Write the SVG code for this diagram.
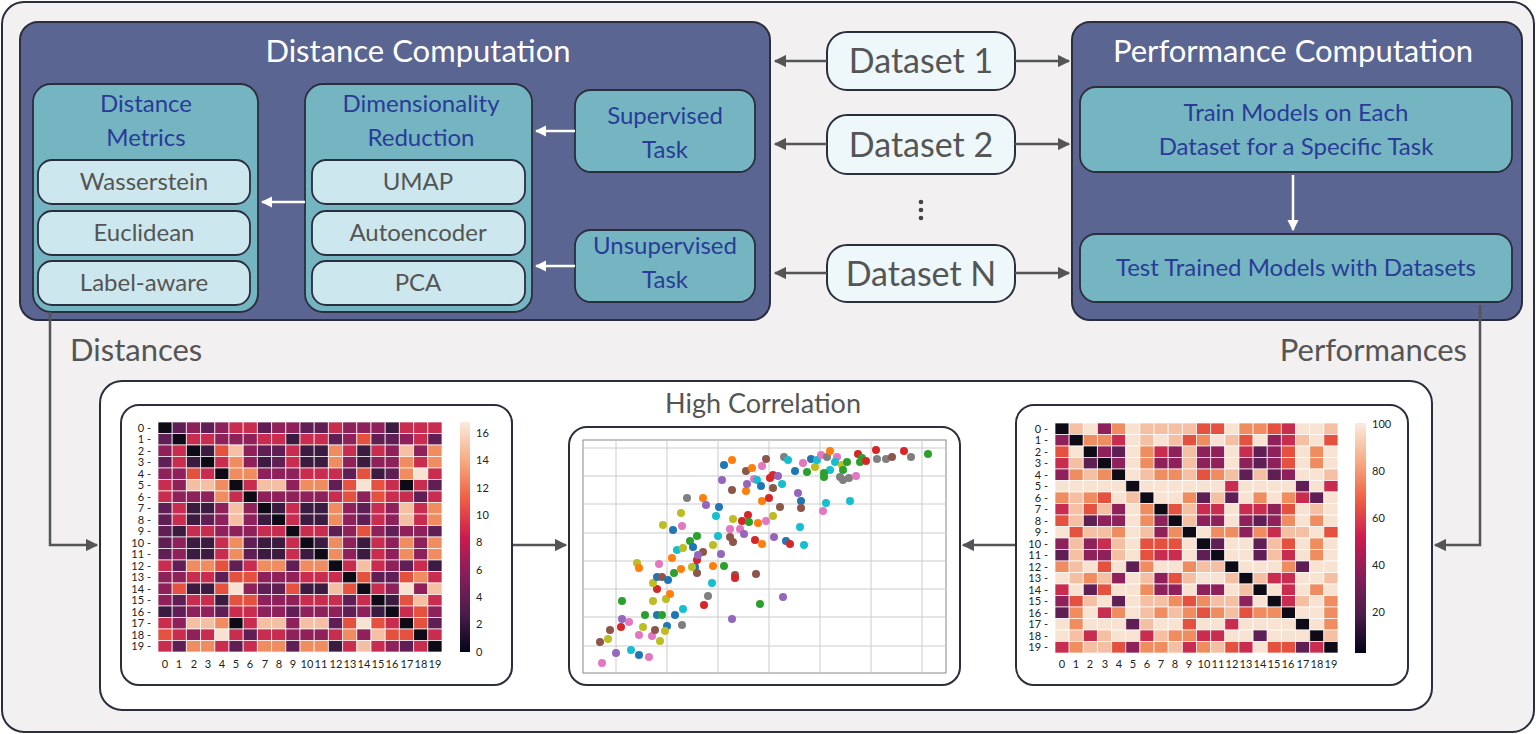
<svg xmlns="http://www.w3.org/2000/svg" width="1536" height="734" viewBox="0 0 1536 734">
<defs>
<style>
text{font-family:Lato,"Open Sans","Liberation Sans",sans-serif}
.big{fill:#5a6591;stroke:#2b2e3d;stroke-width:2}
.mid{fill:#74b5c1;stroke:#2b2e3d;stroke-width:1.8}
.item{fill:#cce8ee;stroke:#2b2e3d;stroke-width:1.8}
.ds{fill:#eef7f9;stroke:#2b2e3d;stroke-width:2}
.panel{fill:#fff;stroke:#2b2e3d;stroke-width:2}
.ttl{fill:#fff;font-size:31px;text-anchor:middle}
.bl{fill:#2a3b98;font-size:24px;text-anchor:middle}
.gr{fill:#555;font-size:24px;text-anchor:middle}
.dst{fill:#555;font-size:34px;text-anchor:middle}
.lbl{fill:#555;font-size:31px}
.con{fill:none;stroke:#555;stroke-width:2.5}
.wcon{fill:none;stroke:#fff;stroke-width:2.5}
.hm rect{width:1px;height:1px;stroke:#fff;stroke-width:0.7;vector-effect:non-scaling-stroke}
.q0{fill:#0e0b16}.q1{fill:#3b1b40}.q2{fill:#5f1e54}.q3{fill:#8e2159}.q4{fill:#c82c4e}.q5{fill:#e4523f}.q6{fill:#ef8c60}.q7{fill:#f4bfa3}.q8{fill:#f8e3d3}
.ax{fill:#222;font-size:11px;font-family:"DejaVu Sans",sans-serif}
.b{fill:#1f77b4}.o{fill:#ff7f0e}.g{fill:#2ca02c}.r{fill:#d62728}.p{fill:#9467bd}.n{fill:#8c564b}.k{fill:#e377c2}.y{fill:#7f7f7f}.l{fill:#bcbd22}.c{fill:#17becf}
.grid{stroke:#ccc;stroke-width:1}
</style>
<marker id="ah" viewBox="0 0 10 10" refX="9" refY="5" markerWidth="5" markerHeight="5" orient="auto-start-reverse"><path d="M0,0 L10,5 L0,10 Z" fill="#555"/></marker>
<marker id="wh" viewBox="0 0 10 10" refX="9" refY="5" markerWidth="4.5" markerHeight="4.5" orient="auto-start-reverse"><path d="M0,0 L10,5 L0,10 Z" fill="#fff"/></marker>
<linearGradient id="cb" x1="0" y1="1" x2="0" y2="0">
<stop offset="0" stop-color="#03051a"/><stop offset="0.17" stop-color="#4c1d4b"/><stop offset="0.33" stop-color="#841e5a"/><stop offset="0.5" stop-color="#cb1b4f"/><stop offset="0.67" stop-color="#f06043"/><stop offset="0.83" stop-color="#f6aa82"/><stop offset="1" stop-color="#faebdd"/>
</linearGradient>
</defs>
<rect x="2" y="2" width="1532" height="730" rx="22" fill="#f2f0f1" stroke="#2b2e3d" stroke-width="2"/>

<g id="distance-computation">
<rect class="big" x="20" y="22" width="750" height="298" rx="18"/>
<text class="ttl" x="418" y="62">Distance Computation</text>
</g>
<g id="distance-metrics">
<rect class="mid" x="33" y="84" width="225" height="228" rx="18"/>
<text class="bl" x="146" y="112">Distance</text>
<text class="bl" x="146" y="146">Metrics</text>
</g>
<g id="wasserstein"><rect class="item" x="38" y="160" width="212" height="44" rx="14"/><text class="gr" x="144" y="190">Wasserstein</text></g>
<g id="euclidean"><rect class="item" x="38" y="211" width="212" height="44" rx="14"/><text class="gr" x="144" y="241">Euclidean</text></g>
<g id="label-aware"><rect class="item" x="38" y="261" width="212" height="44" rx="14"/><text class="gr" x="144" y="291">Label-aware</text></g>
<g id="dimensionality-reduction">
<rect class="mid" x="305" y="84" width="227" height="228" rx="18"/>
<text class="bl" x="421" y="112">Dimensionality</text>
<text class="bl" x="421" y="146">Reduction</text>
</g>
<g id="umap"><rect class="item" x="312" y="160" width="213" height="44" rx="14"/><text class="gr" x="418" y="190">UMAP</text></g>
<g id="autoencoder"><rect class="item" x="312" y="211" width="213" height="44" rx="14"/><text class="gr" x="418" y="241">Autoencoder</text></g>
<g id="pca"><rect class="item" x="312" y="261" width="213" height="44" rx="14"/><text class="gr" x="418" y="291">PCA</text></g>
<g id="supervised-task"><rect class="mid" x="575" y="90" width="180" height="82" rx="16"/><text class="bl" x="665" y="124">Supervised</text><text class="bl" x="665" y="158">Task</text></g>
<g id="unsupervised-task"><rect class="mid" x="575" y="230" width="180" height="72" rx="16"/><text class="bl" x="665" y="254">Unsupervised</text><text class="bl" x="665" y="288">Task</text></g>

<g id="dataset-1"><rect class="ds" x="827" y="32" width="188" height="58" rx="20"/><text class="dst" x="921" y="73">Dataset 1</text></g>
<g id="dataset-2"><rect class="ds" x="827" y="115" width="188" height="59" rx="20"/><text class="dst" x="921" y="157">Dataset 2</text></g>
<g id="dataset-n"><rect class="ds" x="827" y="245" width="188" height="57" rx="20"/><text class="dst" x="921" y="286">Dataset N</text></g>
<g id="ellipsis" fill="#444"><circle cx="921" cy="202" r="2.3"/><circle cx="921" cy="210" r="2.3"/><circle cx="921" cy="218" r="2.3"/></g>

<g id="performance-computation">
<rect class="big" x="1072" y="22" width="450" height="298" rx="18"/>
<text class="ttl" x="1293" y="62">Performance Computation</text>
</g>
<g id="train-models"><rect class="mid" x="1080" y="87" width="432" height="85" rx="16"/><text class="bl" x="1296" y="121">Train Models on Each</text><text class="bl" x="1296" y="155">Dataset for a Specific Task</text></g>
<g id="test-models"><rect class="mid" x="1080" y="234" width="432" height="68" rx="16"/><text class="bl" x="1296" y="276">Test Trained Models with Datasets</text></g>

<text class="lbl" x="70" y="361">Distances</text>
<text class="lbl" x="1467" y="361" text-anchor="end">Performances</text>

<g id="results">
<rect class="panel" x="100" y="381" width="1332" height="329" rx="22"/>
<text x="763" y="413" fill="#555" font-size="27" text-anchor="middle">High Correlation</text>
</g>

<g id="connectors">
<path class="con" d="M827,61 H775" marker-end="url(#ah)"/>
<path class="con" d="M1015,61 H1069" marker-end="url(#ah)"/>
<path class="con" d="M827,144 H775" marker-end="url(#ah)"/>
<path class="con" d="M1015,144 H1069" marker-end="url(#ah)"/>
<path class="con" d="M827,273 H775" marker-end="url(#ah)"/>
<path class="con" d="M1015,273 H1069" marker-end="url(#ah)"/>
<path class="wcon" d="M575,131 H536" marker-end="url(#wh)"/>
<path class="wcon" d="M575,266 H536" marker-end="url(#wh)"/>
<path class="wcon" d="M305,202 H262" marker-end="url(#wh)"/>
<path class="wcon" d="M1293,175 V230" marker-end="url(#wh)"/>
<path class="con" stroke-width="2" d="M50,312 V545 H97" marker-end="url(#ah)"/>
<path class="con" stroke-width="2" d="M1480,305 V545 H1435" marker-end="url(#ah)"/>
<path class="con" d="M512,545 H566" marker-end="url(#ah)"/>
<path class="con" d="M1016,545 H963" marker-end="url(#ah)"/>
</g>

<g id="distance-heatmap">
<rect class="panel" x="121" y="405" width="391" height="280" rx="18"/>
<g class="hm" transform="translate(158,422) scale(14.2,11.5)">
<g><rect x="0" class="q0"/><rect x="1" class="q2"/><rect x="2" class="q3"/><rect x="3" class="q2"/><rect x="4" class="q3"/><rect x="5" class="q4"/><rect x="6" class="q4"/><rect x="7" class="q2"/><rect x="8" class="q3"/><rect x="9" class="q3"/><rect x="10" class="q2"/><rect x="11" class="q2"/><rect x="12" class="q4"/><rect x="13" class="q3"/><rect x="14" class="q3"/><rect x="15" class="q3"/><rect x="16" class="q1"/><rect x="17" class="q4"/><rect x="18" class="q4"/><rect x="19" class="q4"/></g>
<g transform="translate(0,1)"><rect x="0" class="q2"/><rect x="1" class="q0"/><rect x="2" class="q4"/><rect x="3" class="q4"/><rect x="4" class="q3"/><rect x="5" class="q3"/><rect x="6" class="q3"/><rect x="7" class="q4"/><rect x="8" class="q4"/><rect x="9" class="q1"/><rect x="10" class="q4"/><rect x="11" class="q4"/><rect x="12" class="q2"/><rect x="13" class="q3"/><rect x="14" class="q5"/><rect x="15" class="q2"/><rect x="16" class="q2"/><rect x="17" class="q3"/><rect x="18" class="q4"/><rect x="19" class="q2"/></g>
<g transform="translate(0,2)"><rect x="0" class="q3"/><rect x="1" class="q4"/><rect x="2" class="q0"/><rect x="3" class="q1"/><rect x="4" class="q5"/><rect x="5" class="q7"/><rect x="6" class="q3"/><rect x="7" class="q2"/><rect x="8" class="q2"/><rect x="9" class="q4"/><rect x="10" class="q1"/><rect x="11" class="q1"/><rect x="12" class="q6"/><rect x="13" class="q4"/><rect x="14" class="q1"/><rect x="15" class="q4"/><rect x="16" class="q3"/><rect x="17" class="q7"/><rect x="18" class="q3"/><rect x="19" class="q6"/></g>
<g transform="translate(0,3)"><rect x="0" class="q2"/><rect x="1" class="q4"/><rect x="2" class="q1"/><rect x="3" class="q0"/><rect x="4" class="q4"/><rect x="5" class="q6"/><rect x="6" class="q3"/><rect x="7" class="q1"/><rect x="8" class="q2"/><rect x="9" class="q4"/><rect x="10" class="q1"/><rect x="11" class="q1"/><rect x="12" class="q6"/><rect x="13" class="q3"/><rect x="14" class="q1"/><rect x="15" class="q3"/><rect x="16" class="q3"/><rect x="17" class="q6"/><rect x="18" class="q4"/><rect x="19" class="q6"/></g>
<g transform="translate(0,4)"><rect x="0" class="q3"/><rect x="1" class="q3"/><rect x="2" class="q5"/><rect x="3" class="q4"/><rect x="4" class="q0"/><rect x="5" class="q6"/><rect x="6" class="q6"/><rect x="7" class="q3"/><rect x="8" class="q3"/><rect x="9" class="q3"/><rect x="10" class="q4"/><rect x="11" class="q4"/><rect x="12" class="q4"/><rect x="13" class="q2"/><rect x="14" class="q5"/><rect x="15" class="q1"/><rect x="16" class="q2"/><rect x="17" class="q6"/><rect x="18" class="q8"/><rect x="19" class="q4"/></g>
<g transform="translate(0,5)"><rect x="0" class="q4"/><rect x="1" class="q3"/><rect x="2" class="q7"/><rect x="3" class="q7"/><rect x="4" class="q6"/><rect x="5" class="q0"/><rect x="6" class="q4"/><rect x="7" class="q7"/><rect x="8" class="q7"/><rect x="9" class="q3"/><rect x="10" class="q6"/><rect x="11" class="q6"/><rect x="12" class="q2"/><rect x="13" class="q5"/><rect x="14" class="q8"/><rect x="15" class="q5"/><rect x="16" class="q4"/><rect x="17" class="q0"/><rect x="18" class="q4"/><rect x="19" class="q2"/></g>
<g transform="translate(0,6)"><rect x="0" class="q4"/><rect x="1" class="q3"/><rect x="2" class="q3"/><rect x="3" class="q3"/><rect x="4" class="q6"/><rect x="5" class="q4"/><rect x="6" class="q0"/><rect x="7" class="q3"/><rect x="8" class="q3"/><rect x="9" class="q3"/><rect x="10" class="q3"/><rect x="11" class="q3"/><rect x="12" class="q4"/><rect x="13" class="q5"/><rect x="14" class="q3"/><rect x="15" class="q5"/><rect x="16" class="q4"/><rect x="17" class="q4"/><rect x="18" class="q2"/><rect x="19" class="q4"/></g>
<g transform="translate(0,7)"><rect x="0" class="q2"/><rect x="1" class="q4"/><rect x="2" class="q1"/><rect x="3" class="q1"/><rect x="4" class="q3"/><rect x="5" class="q7"/><rect x="6" class="q3"/><rect x="7" class="q0"/><rect x="8" class="q1"/><rect x="9" class="q4"/><rect x="10" class="q1"/><rect x="11" class="q1"/><rect x="12" class="q6"/><rect x="13" class="q3"/><rect x="14" class="q2"/><rect x="15" class="q4"/><rect x="16" class="q3"/><rect x="17" class="q7"/><rect x="18" class="q4"/><rect x="19" class="q6"/></g>
<g transform="translate(0,8)"><rect x="0" class="q2"/><rect x="1" class="q4"/><rect x="2" class="q1"/><rect x="3" class="q2"/><rect x="4" class="q3"/><rect x="5" class="q7"/><rect x="6" class="q3"/><rect x="7" class="q1"/><rect x="8" class="q0"/><rect x="9" class="q4"/><rect x="10" class="q1"/><rect x="11" class="q1"/><rect x="12" class="q6"/><rect x="13" class="q3"/><rect x="14" class="q2"/><rect x="15" class="q4"/><rect x="16" class="q3"/><rect x="17" class="q7"/><rect x="18" class="q4"/><rect x="19" class="q6"/></g>
<g transform="translate(0,9)"><rect x="0" class="q2"/><rect x="1" class="q1"/><rect x="2" class="q4"/><rect x="3" class="q4"/><rect x="4" class="q3"/><rect x="5" class="q3"/><rect x="6" class="q3"/><rect x="7" class="q4"/><rect x="8" class="q4"/><rect x="9" class="q0"/><rect x="10" class="q4"/><rect x="11" class="q4"/><rect x="12" class="q2"/><rect x="13" class="q3"/><rect x="14" class="q5"/><rect x="15" class="q3"/><rect x="16" class="q2"/><rect x="17" class="q3"/><rect x="18" class="q3"/><rect x="19" class="q2"/></g>
<g transform="translate(0,10)"><rect x="0" class="q2"/><rect x="1" class="q3"/><rect x="2" class="q1"/><rect x="3" class="q1"/><rect x="4" class="q4"/><rect x="5" class="q6"/><rect x="6" class="q2"/><rect x="7" class="q1"/><rect x="8" class="q1"/><rect x="9" class="q4"/><rect x="10" class="q0"/><rect x="11" class="q1"/><rect x="12" class="q6"/><rect x="13" class="q3"/><rect x="14" class="q1"/><rect x="15" class="q4"/><rect x="16" class="q3"/><rect x="17" class="q6"/><rect x="18" class="q3"/><rect x="19" class="q6"/></g>
<g transform="translate(0,11)"><rect x="0" class="q2"/><rect x="1" class="q3"/><rect x="2" class="q1"/><rect x="3" class="q1"/><rect x="4" class="q4"/><rect x="5" class="q6"/><rect x="6" class="q2"/><rect x="7" class="q1"/><rect x="8" class="q1"/><rect x="9" class="q4"/><rect x="10" class="q1"/><rect x="11" class="q0"/><rect x="12" class="q6"/><rect x="13" class="q3"/><rect x="14" class="q1"/><rect x="15" class="q4"/><rect x="16" class="q3"/><rect x="17" class="q6"/><rect x="18" class="q3"/><rect x="19" class="q6"/></g>
<g transform="translate(0,12)"><rect x="0" class="q4"/><rect x="1" class="q2"/><rect x="2" class="q6"/><rect x="3" class="q6"/><rect x="4" class="q5"/><rect x="5" class="q2"/><rect x="6" class="q4"/><rect x="7" class="q6"/><rect x="8" class="q6"/><rect x="9" class="q2"/><rect x="10" class="q6"/><rect x="11" class="q6"/><rect x="12" class="q0"/><rect x="13" class="q4"/><rect x="14" class="q7"/><rect x="15" class="q4"/><rect x="16" class="q3"/><rect x="17" class="q2"/><rect x="18" class="q4"/><rect x="19" class="q1"/></g>
<g transform="translate(0,13)"><rect x="0" class="q3"/><rect x="1" class="q3"/><rect x="2" class="q4"/><rect x="3" class="q4"/><rect x="4" class="q2"/><rect x="5" class="q5"/><rect x="6" class="q5"/><rect x="7" class="q3"/><rect x="8" class="q3"/><rect x="9" class="q3"/><rect x="10" class="q4"/><rect x="11" class="q4"/><rect x="12" class="q4"/><rect x="13" class="q0"/><rect x="14" class="q5"/><rect x="15" class="q2"/><rect x="16" class="q2"/><rect x="17" class="q5"/><rect x="18" class="q6"/><rect x="19" class="q4"/></g>
<g transform="translate(0,14)"><rect x="0" class="q3"/><rect x="1" class="q5"/><rect x="2" class="q1"/><rect x="3" class="q1"/><rect x="4" class="q5"/><rect x="5" class="q8"/><rect x="6" class="q3"/><rect x="7" class="q2"/><rect x="8" class="q2"/><rect x="9" class="q5"/><rect x="10" class="q1"/><rect x="11" class="q1"/><rect x="12" class="q7"/><rect x="13" class="q5"/><rect x="14" class="q0"/><rect x="15" class="q4"/><rect x="16" class="q3"/><rect x="17" class="q8"/><rect x="18" class="q3"/><rect x="19" class="q7"/></g>
<g transform="translate(0,15)"><rect x="0" class="q3"/><rect x="1" class="q2"/><rect x="2" class="q4"/><rect x="3" class="q4"/><rect x="4" class="q1"/><rect x="5" class="q5"/><rect x="6" class="q5"/><rect x="7" class="q3"/><rect x="8" class="q3"/><rect x="9" class="q3"/><rect x="10" class="q4"/><rect x="11" class="q4"/><rect x="12" class="q4"/><rect x="13" class="q2"/><rect x="14" class="q4"/><rect x="15" class="q0"/><rect x="16" class="q1"/><rect x="17" class="q5"/><rect x="18" class="q7"/><rect x="19" class="q4"/></g>
<g transform="translate(0,16)"><rect x="0" class="q1"/><rect x="1" class="q2"/><rect x="2" class="q3"/><rect x="3" class="q3"/><rect x="4" class="q2"/><rect x="5" class="q4"/><rect x="6" class="q4"/><rect x="7" class="q3"/><rect x="8" class="q3"/><rect x="9" class="q2"/><rect x="10" class="q3"/><rect x="11" class="q3"/><rect x="12" class="q3"/><rect x="13" class="q2"/><rect x="14" class="q3"/><rect x="15" class="q1"/><rect x="16" class="q0"/><rect x="17" class="q4"/><rect x="18" class="q5"/><rect x="19" class="q3"/></g>
<g transform="translate(0,17)"><rect x="0" class="q4"/><rect x="1" class="q3"/><rect x="2" class="q7"/><rect x="3" class="q7"/><rect x="4" class="q6"/><rect x="5" class="q0"/><rect x="6" class="q4"/><rect x="7" class="q7"/><rect x="8" class="q7"/><rect x="9" class="q3"/><rect x="10" class="q7"/><rect x="11" class="q7"/><rect x="12" class="q2"/><rect x="13" class="q5"/><rect x="14" class="q8"/><rect x="15" class="q5"/><rect x="16" class="q4"/><rect x="17" class="q0"/><rect x="18" class="q5"/><rect x="19" class="q2"/></g>
<g transform="translate(0,18)"><rect x="0" class="q5"/><rect x="1" class="q4"/><rect x="2" class="q3"/><rect x="3" class="q4"/><rect x="4" class="q8"/><rect x="5" class="q4"/><rect x="6" class="q2"/><rect x="7" class="q4"/><rect x="8" class="q4"/><rect x="9" class="q3"/><rect x="10" class="q3"/><rect x="11" class="q3"/><rect x="12" class="q4"/><rect x="13" class="q6"/><rect x="14" class="q3"/><rect x="15" class="q7"/><rect x="16" class="q5"/><rect x="17" class="q5"/><rect x="18" class="q0"/><rect x="19" class="q4"/></g>
<g transform="translate(0,19)"><rect x="0" class="q4"/><rect x="1" class="q2"/><rect x="2" class="q6"/><rect x="3" class="q6"/><rect x="4" class="q4"/><rect x="5" class="q2"/><rect x="6" class="q4"/><rect x="7" class="q6"/><rect x="8" class="q6"/><rect x="9" class="q2"/><rect x="10" class="q6"/><rect x="11" class="q6"/><rect x="12" class="q1"/><rect x="13" class="q4"/><rect x="14" class="q7"/><rect x="15" class="q4"/><rect x="16" class="q3"/><rect x="17" class="q2"/><rect x="18" class="q4"/><rect x="19" class="q0"/></g>
</g>
<g class="ax" text-anchor="end">
<text x="151" y="432">0 -</text><text x="151" y="443">1 -</text><text x="151" y="455">2 -</text><text x="151" y="466">3 -</text><text x="151" y="478">4 -</text><text x="151" y="489">5 -</text><text x="151" y="501">6 -</text><text x="151" y="512">7 -</text><text x="151" y="524">8 -</text><text x="151" y="535">9 -</text><text x="151" y="547">10 -</text><text x="151" y="558">11 -</text><text x="151" y="570">12 -</text><text x="151" y="581">13 -</text><text x="151" y="593">14 -</text><text x="151" y="604">15 -</text><text x="151" y="616">16 -</text><text x="151" y="627">17 -</text><text x="151" y="639">18 -</text><text x="151" y="650">19 -</text>
</g>
<g class="ax" text-anchor="middle">
<text x="165" y="668">0</text><text x="179" y="668">1</text><text x="194" y="668">2</text><text x="208" y="668">3</text><text x="222" y="668">4</text><text x="236" y="668">5</text><text x="250" y="668">6</text><text x="265" y="668">7</text><text x="279" y="668">8</text><text x="293" y="668">9</text><text x="307" y="668">10</text><text x="321" y="668">11</text><text x="336" y="668">12</text><text x="350" y="668">13</text><text x="364" y="668">14</text><text x="378" y="668">15</text><text x="392" y="668">16</text><text x="407" y="668">17</text><text x="421" y="668">18</text><text x="435" y="668">19</text>
</g>
<rect x="460" y="422" width="10" height="230" fill="url(#cb)"/>
<g class="ax">
<text x="476" y="437">16</text><text x="476" y="464">14</text><text x="476" y="492">12</text><text x="476" y="519">10</text><text x="476" y="546">8</text><text x="476" y="574">6</text><text x="476" y="601">4</text><text x="476" y="628">2</text><text x="476" y="656">0</text>
</g>
</g>

<g id="performance-heatmap">
<rect class="panel" x="1016" y="405" width="392" height="280" rx="18"/>
<g class="hm" transform="translate(1055,423) scale(14.15,11.5)">
<g><rect x="0" class="q0"/><rect x="1" class="q7"/><rect x="2" class="q8"/><rect x="3" class="q3"/><rect x="4" class="q6"/><rect x="5" class="q8"/><rect x="6" class="q7"/><rect x="7" class="q7"/><rect x="8" class="q7"/><rect x="9" class="q7"/><rect x="10" class="q5"/><rect x="11" class="q5"/><rect x="12" class="q8"/><rect x="13" class="q6"/><rect x="14" class="q6"/><rect x="15" class="q5"/><rect x="16" class="q4"/><rect x="17" class="q8"/><rect x="18" class="q8"/><rect x="19" class="q7"/></g>
<g transform="translate(0,1)"><rect x="0" class="q3"/><rect x="1" class="q0"/><rect x="2" class="q6"/><rect x="3" class="q6"/><rect x="4" class="q4"/><rect x="5" class="q8"/><rect x="6" class="q7"/><rect x="7" class="q8"/><rect x="8" class="q7"/><rect x="9" class="q5"/><rect x="10" class="q6"/><rect x="11" class="q8"/><rect x="12" class="q7"/><rect x="13" class="q5"/><rect x="14" class="q8"/><rect x="15" class="q3"/><rect x="16" class="q4"/><rect x="17" class="q7"/><rect x="18" class="q8"/><rect x="19" class="q5"/></g>
<g transform="translate(0,2)"><rect x="0" class="q5"/><rect x="1" class="q8"/><rect x="2" class="q0"/><rect x="3" class="q3"/><rect x="4" class="q2"/><rect x="5" class="q8"/><rect x="6" class="q6"/><rect x="7" class="q4"/><rect x="8" class="q3"/><rect x="9" class="q7"/><rect x="10" class="q3"/><rect x="11" class="q3"/><rect x="12" class="q8"/><rect x="13" class="q4"/><rect x="14" class="q2"/><rect x="15" class="q3"/><rect x="16" class="q5"/><rect x="17" class="q8"/><rect x="18" class="q6"/><rect x="19" class="q8"/></g>
<g transform="translate(0,3)"><rect x="0" class="q4"/><rect x="1" class="q7"/><rect x="2" class="q2"/><rect x="3" class="q0"/><rect x="4" class="q3"/><rect x="5" class="q8"/><rect x="6" class="q6"/><rect x="7" class="q3"/><rect x="8" class="q3"/><rect x="9" class="q7"/><rect x="10" class="q3"/><rect x="11" class="q3"/><rect x="12" class="q8"/><rect x="13" class="q3"/><rect x="14" class="q2"/><rect x="15" class="q3"/><rect x="16" class="q5"/><rect x="17" class="q8"/><rect x="18" class="q6"/><rect x="19" class="q8"/></g>
<g transform="translate(0,4)"><rect x="0" class="q3"/><rect x="1" class="q6"/><rect x="2" class="q7"/><rect x="3" class="q6"/><rect x="4" class="q0"/><rect x="5" class="q8"/><rect x="6" class="q7"/><rect x="7" class="q6"/><rect x="8" class="q6"/><rect x="9" class="q7"/><rect x="10" class="q5"/><rect x="11" class="q6"/><rect x="12" class="q7"/><rect x="13" class="q2"/><rect x="14" class="q7"/><rect x="15" class="q2"/><rect x="16" class="q3"/><rect x="17" class="q8"/><rect x="18" class="q8"/><rect x="19" class="q7"/></g>
<g transform="translate(0,5)"><rect x="0" class="q8"/><rect x="1" class="q8"/><rect x="2" class="q8"/><rect x="3" class="q8"/><rect x="4" class="q8"/><rect x="5" class="q0"/><rect x="6" class="q8"/><rect x="7" class="q8"/><rect x="8" class="q8"/><rect x="9" class="q8"/><rect x="10" class="q8"/><rect x="11" class="q8"/><rect x="12" class="q4"/><rect x="13" class="q8"/><rect x="14" class="q8"/><rect x="15" class="q8"/><rect x="16" class="q8"/><rect x="17" class="q2"/><rect x="18" class="q8"/><rect x="19" class="q4"/></g>
<g transform="translate(0,6)"><rect x="0" class="q6"/><rect x="1" class="q7"/><rect x="2" class="q6"/><rect x="3" class="q5"/><rect x="4" class="q8"/><rect x="5" class="q7"/><rect x="6" class="q0"/><rect x="7" class="q8"/><rect x="8" class="q8"/><rect x="9" class="q6"/><rect x="10" class="q2"/><rect x="11" class="q7"/><rect x="12" class="q2"/><rect x="13" class="q8"/><rect x="14" class="q6"/><rect x="15" class="q8"/><rect x="16" class="q6"/><rect x="17" class="q4"/><rect x="18" class="q2"/><rect x="19" class="q8"/></g>
<g transform="translate(0,7)"><rect x="0" class="q4"/><rect x="1" class="q7"/><rect x="2" class="q5"/><rect x="3" class="q7"/><rect x="4" class="q3"/><rect x="5" class="q8"/><rect x="6" class="q6"/><rect x="7" class="q0"/><rect x="8" class="q5"/><rect x="9" class="q7"/><rect x="10" class="q4"/><rect x="11" class="q4"/><rect x="12" class="q8"/><rect x="13" class="q4"/><rect x="14" class="q4"/><rect x="15" class="q3"/><rect x="16" class="q5"/><rect x="17" class="q8"/><rect x="18" class="q7"/><rect x="19" class="q8"/></g>
<g transform="translate(0,8)"><rect x="0" class="q5"/><rect x="1" class="q7"/><rect x="2" class="q2"/><rect x="3" class="q3"/><rect x="4" class="q3"/><rect x="5" class="q8"/><rect x="6" class="q6"/><rect x="7" class="q3"/><rect x="8" class="q0"/><rect x="9" class="q7"/><rect x="10" class="q3"/><rect x="11" class="q3"/><rect x="12" class="q8"/><rect x="13" class="q3"/><rect x="14" class="q2"/><rect x="15" class="q3"/><rect x="16" class="q6"/><rect x="17" class="q8"/><rect x="18" class="q6"/><rect x="19" class="q8"/></g>
<g transform="translate(0,9)"><rect x="0" class="q8"/><rect x="1" class="q5"/><rect x="2" class="q7"/><rect x="3" class="q7"/><rect x="4" class="q6"/><rect x="5" class="q8"/><rect x="6" class="q7"/><rect x="7" class="q3"/><rect x="8" class="q6"/><rect x="9" class="q0"/><rect x="10" class="q8"/><rect x="11" class="q6"/><rect x="12" class="q6"/><rect x="13" class="q3"/><rect x="14" class="q6"/><rect x="15" class="q4"/><rect x="16" class="q7"/><rect x="17" class="q7"/><rect x="18" class="q8"/><rect x="19" class="q5"/></g>
<g transform="translate(0,10)"><rect x="0" class="q3"/><rect x="1" class="q7"/><rect x="2" class="q3"/><rect x="3" class="q4"/><rect x="4" class="q7"/><rect x="5" class="q8"/><rect x="6" class="q5"/><rect x="7" class="q5"/><rect x="8" class="q5"/><rect x="9" class="q8"/><rect x="10" class="q0"/><rect x="11" class="q2"/><rect x="12" class="q8"/><rect x="13" class="q8"/><rect x="14" class="q2"/><rect x="15" class="q7"/><rect x="16" class="q5"/><rect x="17" class="q8"/><rect x="18" class="q6"/><rect x="19" class="q8"/></g>
<g transform="translate(0,11)"><rect x="0" class="q2"/><rect x="1" class="q7"/><rect x="2" class="q3"/><rect x="3" class="q3"/><rect x="4" class="q7"/><rect x="5" class="q8"/><rect x="6" class="q5"/><rect x="7" class="q4"/><rect x="8" class="q4"/><rect x="9" class="q8"/><rect x="10" class="q2"/><rect x="11" class="q0"/><rect x="12" class="q8"/><rect x="13" class="q8"/><rect x="14" class="q2"/><rect x="15" class="q7"/><rect x="16" class="q4"/><rect x="17" class="q8"/><rect x="18" class="q6"/><rect x="19" class="q8"/></g>
<g transform="translate(0,12)"><rect x="0" class="q6"/><rect x="1" class="q7"/><rect x="2" class="q8"/><rect x="3" class="q5"/><rect x="4" class="q8"/><rect x="5" class="q2"/><rect x="6" class="q6"/><rect x="7" class="q8"/><rect x="8" class="q8"/><rect x="9" class="q6"/><rect x="10" class="q7"/><rect x="11" class="q7"/><rect x="12" class="q0"/><rect x="13" class="q8"/><rect x="14" class="q8"/><rect x="15" class="q8"/><rect x="16" class="q6"/><rect x="17" class="q2"/><rect x="18" class="q8"/><rect x="19" class="q8"/></g>
<g transform="translate(0,13)"><rect x="0" class="q8"/><rect x="1" class="q7"/><rect x="2" class="q6"/><rect x="3" class="q7"/><rect x="4" class="q3"/><rect x="5" class="q8"/><rect x="6" class="q7"/><rect x="7" class="q3"/><rect x="8" class="q5"/><rect x="9" class="q7"/><rect x="10" class="q8"/><rect x="11" class="q8"/><rect x="12" class="q7"/><rect x="13" class="q0"/><rect x="14" class="q7"/><rect x="15" class="q4"/><rect x="16" class="q4"/><rect x="17" class="q8"/><rect x="18" class="q8"/><rect x="19" class="q7"/></g>
<g transform="translate(0,14)"><rect x="0" class="q4"/><rect x="1" class="q8"/><rect x="2" class="q2"/><rect x="3" class="q5"/><rect x="4" class="q8"/><rect x="5" class="q8"/><rect x="6" class="q6"/><rect x="7" class="q3"/><rect x="8" class="q3"/><rect x="9" class="q8"/><rect x="10" class="q3"/><rect x="11" class="q3"/><rect x="12" class="q8"/><rect x="13" class="q7"/><rect x="14" class="q0"/><rect x="15" class="q8"/><rect x="16" class="q4"/><rect x="17" class="q8"/><rect x="18" class="q6"/><rect x="19" class="q8"/></g>
<g transform="translate(0,15)"><rect x="0" class="q3"/><rect x="1" class="q5"/><rect x="2" class="q7"/><rect x="3" class="q8"/><rect x="4" class="q2"/><rect x="5" class="q8"/><rect x="6" class="q7"/><rect x="7" class="q7"/><rect x="8" class="q6"/><rect x="9" class="q5"/><rect x="10" class="q6"/><rect x="11" class="q7"/><rect x="12" class="q7"/><rect x="13" class="q3"/><rect x="14" class="q8"/><rect x="15" class="q0"/><rect x="16" class="q4"/><rect x="17" class="q7"/><rect x="18" class="q8"/><rect x="19" class="q6"/></g>
<g transform="translate(0,16)"><rect x="0" class="q2"/><rect x="1" class="q6"/><rect x="2" class="q8"/><rect x="3" class="q4"/><rect x="4" class="q6"/><rect x="5" class="q8"/><rect x="6" class="q7"/><rect x="7" class="q6"/><rect x="8" class="q7"/><rect x="9" class="q6"/><rect x="10" class="q5"/><rect x="11" class="q6"/><rect x="12" class="q7"/><rect x="13" class="q5"/><rect x="14" class="q6"/><rect x="15" class="q6"/><rect x="16" class="q0"/><rect x="17" class="q8"/><rect x="18" class="q8"/><rect x="19" class="q6"/></g>
<g transform="translate(0,17)"><rect x="0" class="q8"/><rect x="1" class="q6"/><rect x="2" class="q8"/><rect x="3" class="q8"/><rect x="4" class="q8"/><rect x="5" class="q2"/><rect x="6" class="q7"/><rect x="7" class="q8"/><rect x="8" class="q8"/><rect x="9" class="q5"/><rect x="10" class="q8"/><rect x="11" class="q8"/><rect x="12" class="q4"/><rect x="13" class="q8"/><rect x="14" class="q8"/><rect x="15" class="q8"/><rect x="16" class="q8"/><rect x="17" class="q0"/><rect x="18" class="q8"/><rect x="19" class="q6"/></g>
<g transform="translate(0,18)"><rect x="0" class="q8"/><rect x="1" class="q7"/><rect x="2" class="q4"/><rect x="3" class="q7"/><rect x="4" class="q8"/><rect x="5" class="q8"/><rect x="6" class="q4"/><rect x="7" class="q7"/><rect x="8" class="q6"/><rect x="9" class="q6"/><rect x="10" class="q4"/><rect x="11" class="q4"/><rect x="12" class="q8"/><rect x="13" class="q8"/><rect x="14" class="q2"/><rect x="15" class="q8"/><rect x="16" class="q8"/><rect x="17" class="q8"/><rect x="18" class="q0"/><rect x="19" class="q7"/></g>
<g transform="translate(0,19)"><rect x="0" class="q4"/><rect x="1" class="q6"/><rect x="2" class="q7"/><rect x="3" class="q7"/><rect x="4" class="q5"/><rect x="5" class="q3"/><rect x="6" class="q6"/><rect x="7" class="q6"/><rect x="8" class="q7"/><rect x="9" class="q4"/><rect x="10" class="q6"/><rect x="11" class="q7"/><rect x="12" class="q5"/><rect x="13" class="q4"/><rect x="14" class="q8"/><rect x="15" class="q5"/><rect x="16" class="q5"/><rect x="17" class="q2"/><rect x="18" class="q4"/><rect x="19" class="q0"/></g>
</g>
<g class="ax" text-anchor="end">
<text x="1048" y="433">0 -</text><text x="1048" y="444">1 -</text><text x="1048" y="456">2 -</text><text x="1048" y="467">3 -</text><text x="1048" y="479">4 -</text><text x="1048" y="490">5 -</text><text x="1048" y="502">6 -</text><text x="1048" y="513">7 -</text><text x="1048" y="525">8 -</text><text x="1048" y="536">9 -</text><text x="1048" y="548">10 -</text><text x="1048" y="559">11 -</text><text x="1048" y="571">12 -</text><text x="1048" y="582">13 -</text><text x="1048" y="594">14 -</text><text x="1048" y="605">15 -</text><text x="1048" y="617">16 -</text><text x="1048" y="628">17 -</text><text x="1048" y="640">18 -</text><text x="1048" y="651">19 -</text>
</g>
<g class="ax" text-anchor="middle">
<text x="1062" y="668">0</text><text x="1076" y="668">1</text><text x="1090" y="668">2</text><text x="1105" y="668">3</text><text x="1119" y="668">4</text><text x="1133" y="668">5</text><text x="1147" y="668">6</text><text x="1161" y="668">7</text><text x="1175" y="668">8</text><text x="1189" y="668">9</text><text x="1204" y="668">10</text><text x="1218" y="668">11</text><text x="1232" y="668">12</text><text x="1246" y="668">13</text><text x="1260" y="668">14</text><text x="1274" y="668">15</text><text x="1288" y="668">16</text><text x="1303" y="668">17</text><text x="1317" y="668">18</text><text x="1331" y="668">19</text>
</g>
<rect x="1355" y="423" width="11" height="230" fill="url(#cb)"/>
<g class="ax">
<text x="1372" y="428">100</text><text x="1372" y="475">80</text><text x="1372" y="522">60</text><text x="1372" y="569">40</text><text x="1372" y="616">20</text>
</g>
</g>

<g id="scatter-plot">
<rect class="panel" x="569" y="427" width="391" height="258" rx="18"/>
<rect x="583" y="440" width="363" height="233" fill="#fff" stroke="#888" stroke-width="1"/>
<g class="grid">
<path d="M616,440V673M667,440V673M718,440V673M769,440V673M820,440V673M871,440V673M922,440V673"/>
<path d="M583,448H946M583,476H946M583,504H946M583,533H946M583,561H946M583,589H946M583,617H946M583,646H946"/>
</g>
<g>
<circle class="k" cx="602" cy="663" r="4"/><circle class="n" cx="600" cy="642" r="4"/><circle class="l" cx="608" cy="639" r="4"/><circle class="n" cx="610" cy="630" r="4"/><circle class="p" cx="616" cy="653" r="4"/><circle class="g" cx="622" cy="601" r="4"/><circle class="r" cx="621" cy="627" r="4"/><circle class="p" cx="622" cy="619" r="4"/><circle class="k" cx="629" cy="622" r="4"/><circle class="c" cx="631" cy="650" r="4"/><circle class="b" cx="639" cy="655" r="4"/><circle class="k" cx="649" cy="657" r="4"/><circle class="k" cx="639" cy="635" r="4"/><circle class="l" cx="643" cy="627" r="4"/><circle class="g" cx="645" cy="615" r="4"/><circle class="k" cx="652" cy="636" r="4"/><circle class="n" cx="655" cy="630" r="4"/><circle class="l" cx="660" cy="641" r="4"/><circle class="b" cx="657" cy="615" r="4"/><circle class="g" cx="662" cy="615" r="4"/><circle class="b" cx="667" cy="626" r="4"/><circle class="l" cx="665" cy="631" r="4"/><circle class="l" cx="653" cy="601" r="4"/><circle class="l" cx="666" cy="599" r="4"/><circle class="o" cx="670" cy="594" r="4"/><circle class="b" cx="675" cy="615" r="4"/><circle class="y" cx="682" cy="625" r="4"/><circle class="c" cx="683" cy="609" r="4"/><circle class="r" cx="657" cy="589" r="4"/><circle class="l" cx="653" cy="583" r="4"/><circle class="b" cx="657" cy="577" r="4"/><circle class="n" cx="662" cy="577" r="4"/><circle class="b" cx="668" cy="580" r="4"/><circle class="g" cx="674" cy="573" r="4"/><circle class="o" cx="681" cy="569" r="4"/><circle class="k" cx="659" cy="564" r="4"/><circle class="l" cx="637" cy="563" r="4"/><circle class="o" cx="639" cy="568" r="4"/><circle class="o" cx="672" cy="558" r="4"/><circle class="c" cx="677" cy="550" r="4"/><circle class="l" cx="683" cy="548" r="4"/><circle class="g" cx="690" cy="541" r="4"/><circle class="b" cx="693" cy="547" r="4"/><circle class="g" cx="697" cy="536" r="4"/><circle class="r" cx="697" cy="560" r="4"/><circle class="b" cx="695" cy="567" r="4"/><circle class="n" cx="697" cy="573" r="4"/><circle class="l" cx="692" cy="567" r="4"/><circle class="n" cx="703" cy="552" r="4"/><circle class="p" cx="698" cy="555" r="4"/><circle class="l" cx="713" cy="545" r="4"/><circle class="p" cx="721" cy="554" r="4"/><circle class="o" cx="713" cy="566" r="4"/><circle class="g" cx="724" cy="566" r="4"/><circle class="c" cx="712" cy="583" r="4"/><circle class="y" cx="708" cy="596" r="4"/><circle class="r" cx="704" cy="605" r="4"/><circle class="p" cx="732" cy="619" r="4"/><circle class="n" cx="735" cy="575" r="4"/><circle class="r" cx="735" cy="578" r="4"/><circle class="n" cx="756" cy="574" r="4"/><circle class="g" cx="760" cy="604" r="4"/><circle class="p" cx="783" cy="597" r="4"/><circle class="l" cx="663" cy="525" r="4"/><circle class="b" cx="673" cy="530" r="4"/><circle class="k" cx="682" cy="526" r="4"/><circle class="l" cx="681" cy="513" r="4"/><circle class="y" cx="687" cy="498" r="4"/><circle class="o" cx="703" cy="498" r="4"/><circle class="p" cx="706" cy="505" r="4"/><circle class="b" cx="719" cy="507" r="4"/><circle class="c" cx="716" cy="516" r="4"/><circle class="p" cx="722" cy="480" r="4"/><circle class="b" cx="724" cy="465" r="4"/><circle class="o" cx="732" cy="460" r="4"/><circle class="n" cx="732" cy="490" r="4"/><circle class="c" cx="718" cy="536" r="4"/><circle class="n" cx="730" cy="537" r="4"/><circle class="n" cx="733" cy="542" r="4"/><circle class="k" cx="730" cy="529" r="4"/><circle class="l" cx="733" cy="519" r="4"/><circle class="r" cx="742" cy="521" r="4"/><circle class="r" cx="748" cy="515" r="4"/><circle class="g" cx="749" cy="522" r="4"/><circle class="k" cx="740" cy="529" r="4"/><circle class="p" cx="744" cy="534" r="4"/><circle class="r" cx="755" cy="540" r="4"/><circle class="o" cx="762" cy="544" r="4"/><circle class="o" cx="758" cy="523" r="4"/><circle class="k" cx="766" cy="521" r="4"/><circle class="l" cx="773" cy="516" r="4"/><circle class="n" cx="746" cy="471" r="4"/><circle class="o" cx="752" cy="468" r="4"/><circle class="k" cx="762" cy="466" r="4"/><circle class="n" cx="766" cy="459" r="4"/><circle class="o" cx="746" cy="491" r="4"/><circle class="p" cx="747" cy="484" r="4"/><circle class="k" cx="754" cy="479" r="4"/><circle class="c" cx="757" cy="480" r="4"/><circle class="b" cx="761" cy="486" r="4"/><circle class="o" cx="762" cy="501" r="4"/><circle class="r" cx="769" cy="498" r="4"/><circle class="r" cx="770" cy="478" r="4"/><circle class="r" cx="773" cy="475" r="4"/><circle class="p" cx="778" cy="476" r="4"/><circle class="n" cx="773" cy="488" r="4"/><circle class="c" cx="782" cy="484" r="4"/><circle class="y" cx="784" cy="457" r="4"/><circle class="c" cx="788" cy="460" r="4"/><circle class="n" cx="780" cy="507" r="4"/><circle class="p" cx="774" cy="537" r="4"/><circle class="b" cx="786" cy="541" r="4"/><circle class="r" cx="790" cy="544" r="4"/><circle class="c" cx="800" cy="527" r="4"/><circle class="c" cx="804" cy="545" r="4"/><circle class="p" cx="798" cy="493" r="4"/><circle class="b" cx="801" cy="501" r="4"/><circle class="n" cx="801" cy="508" r="4"/><circle class="b" cx="795" cy="471" r="4"/><circle class="g" cx="807" cy="472" r="4"/><circle class="k" cx="803" cy="463" r="4"/><circle class="b" cx="811" cy="459" r="4"/><circle class="l" cx="815" cy="467" r="4"/><circle class="c" cx="817" cy="460" r="4"/><circle class="k" cx="821" cy="455" r="4"/><circle class="y" cx="827" cy="457" r="4"/><circle class="o" cx="830" cy="451" r="4"/><circle class="c" cx="830" cy="470" r="4"/><circle class="g" cx="824" cy="477" r="4"/><circle class="g" cx="824" cy="473" r="4"/><circle class="c" cx="826" cy="503" r="4"/><circle class="k" cx="823" cy="511" r="4"/><circle class="k" cx="837" cy="457" r="4"/><circle class="c" cx="835" cy="462" r="4"/><circle class="l" cx="842" cy="465" r="4"/><circle class="g" cx="843" cy="470" r="4"/><circle class="y" cx="840" cy="477" r="4"/><circle class="y" cx="843" cy="480" r="4"/><circle class="y" cx="849" cy="478" r="4"/><circle class="k" cx="856" cy="476" r="4"/><circle class="g" cx="847" cy="462" r="4"/><circle class="c" cx="850" cy="501" r="4"/><circle class="r" cx="858" cy="454" r="4"/><circle class="g" cx="860" cy="462" r="4"/><circle class="g" cx="862" cy="458" r="4"/><circle class="r" cx="866" cy="461" r="4"/><circle class="r" cx="876" cy="450" r="4"/><circle class="y" cx="877" cy="459" r="4"/><circle class="y" cx="886" cy="459" r="4"/><circle class="n" cx="892" cy="457" r="4"/><circle class="r" cx="904" cy="451" r="4"/><circle class="y" cx="911" cy="457" r="4"/><circle class="g" cx="928" cy="454" r="4"/>
</g>
</g>
</svg>
